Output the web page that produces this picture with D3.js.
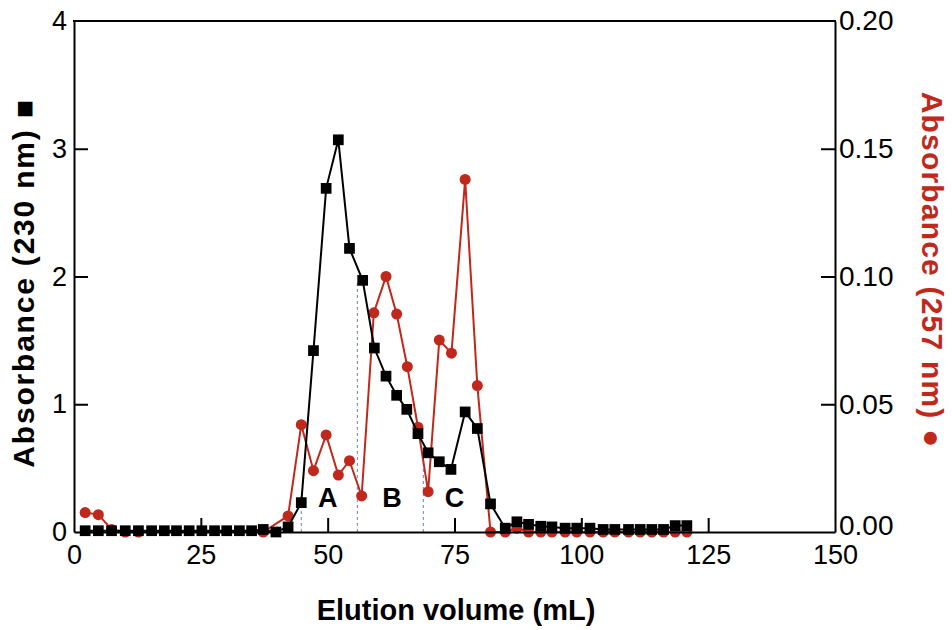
<!DOCTYPE html>
<html><head><meta charset="utf-8">
<script src="https://cdn.jsdelivr.net/npm/d3@7"></script>
<style>body{margin:0;background:#fff}</style>
</head><body>
<svg id="chart" width="952" height="630"></svg>
<script>
// Elution volume (mL) and absorbance at 230 nm (black squares, left axis)
const volume230 = [2.2,4.8,7.4,10.1,12.7,15.3,17.8,20.2,22.7,25.2,27.7,30.1,32.6,35.0,37.3,39.8,42.2,44.8,47.2,49.7,52.1,54.3,56.9,59.2,61.5,63.6,65.6,67.8,69.8,72.0,74.3,77.1,79.5,82.1,85.0,87.3,89.6,92.0,94.2,96.8,99.1,101.7,104.3,106.6,109.3,111.6,113.9,116.2,118.5,120.8];
const abs230 = [0.01,0.01,0.01,0.01,0.01,0.01,0.01,0.01,0.01,0.01,0.01,0.01,0.01,0.01,0.02,0.00,0.04,0.23,1.42,2.69,3.07,2.22,1.97,1.44,1.22,1.07,0.96,0.77,0.62,0.55,0.49,0.94,0.81,0.22,0.03,0.08,0.06,0.045,0.04,0.03,0.03,0.03,0.02,0.02,0.02,0.02,0.02,0.02,0.05,0.05];
// Absorbance at 257 nm (red circles, right axis)
const volume257 = [2.2,4.8,7.4,10.1,12.7,37.3,42.2,44.8,47.2,49.7,52.1,54.3,56.7,59.1,61.5,63.6,65.7,67.8,69.8,72.0,74.4,77.1,79.5,82.1,85.0,87.3,89.6,92.0,94.2,96.8,99.1,101.7,104.3,106.6,109.3,111.6,113.9,116.2,118.5,120.8];
const abs257 = [0.0076,0.0068,0.001,0,0,0,0.0063,0.042,0.024,0.038,0.0223,0.0279,0.0141,0.0858,0.100,0.0853,0.0647,0.041,0.0158,0.0751,0.070,0.138,0.0573,0,0,0.0015,0,0,0,0,0,0,0,0,0,0,0,0,0,0];
// ticks
const xTicks = [0,25,50,75,100,125,150];
const leftTicks = [0,1,2,3,4];
const rightTicks = [0,0.05,0.10,0.15,0.20];
// fraction annotations
const fractionLabels = ["A","B","C"];
const fractionLabelX = [50,62.7,75];
const fractionLabelY = [0.27,0.27,0.27];
const dividerX = [44.8,55.85,68.85];
const dividerTop = [0.2,1.95,0.62];

const W = 952, H = 630;
const m = {left:74, right:835, top:21, bottom:532};
const RED = "#c0281c";
const FONT = "'Liberation Sans', Arial, Helvetica, sans-serif";

const svg = d3.select("#chart");
const x = d3.scaleLinear().domain([0,150]).range([m.left, m.right]);
const yL = d3.scaleLinear().domain([0,4]).range([m.bottom, m.top]);
const yR = d3.scaleLinear().domain([0,0.2]).range([m.bottom, m.top]);

// dividers
svg.append("g").selectAll("line").data(dividerX).join("line")
  .attr("x1", d=>x(d)).attr("x2", d=>x(d))
  .attr("y1", yL(0)).attr("y2", (d,i)=>yL(dividerTop[i]))
  .attr("stroke","#6f7fc8").attr("stroke-width",1).attr("stroke-dasharray","3,3");

// fraction labels
svg.append("g").selectAll("text").data(fractionLabels).join("text")
  .attr("x",(d,i)=>x(fractionLabelX[i])).attr("y",(d,i)=>yL(fractionLabelY[i]))
  .attr("text-anchor","middle").attr("dominant-baseline","central")
  .attr("font-family",FONT).attr("font-weight","bold").attr("font-size",27)
  .attr("fill","#000").text(d=>d);

// red series
const red = volume257.map((v,i)=>[v,abs257[i]]);
svg.append("path").datum(red)
  .attr("fill","none").attr("stroke",RED).attr("stroke-width",2)
  .attr("d", d3.line().x(d=>x(d[0])).y(d=>yR(d[1])));
svg.append("g").selectAll("circle").data(red).join("circle")
  .attr("cx",d=>x(d[0])).attr("cy",d=>yR(d[1])).attr("r",5.5).attr("fill",RED);

// black series
const blk = volume230.map((v,i)=>[v,abs230[i]]);
svg.append("path").datum(blk)
  .attr("fill","none").attr("stroke","#000").attr("stroke-width",2)
  .attr("d", d3.line().x(d=>x(d[0])).y(d=>yL(d[1])));
svg.append("g").selectAll("path").data(blk).join("path")
  .attr("transform",d=>`translate(${x(d[0])},${yL(d[1])})`)
  .attr("d", d3.symbol(d3.symbolSquare, 115)).attr("fill","#000");

// axes
function styleAxis(size){
  return g=>{
    g.selectAll(".domain").attr("stroke-width",2);
    g.selectAll(".tick line").attr("stroke-width",2);
    g.selectAll("text").attr("font-family",FONT).attr("font-size",size).attr("fill","#000");
  };
}
svg.append("g").attr("transform",`translate(0,${m.bottom})`)
  .call(d3.axisBottom(x).tickValues(xTicks).tickSizeInner(-14).tickSizeOuter(0).tickPadding(13).tickFormat(d3.format("d")))
  .call(styleAxis(27))
  .call(g=>g.selectAll(".tick line").filter(d=>d===0||d===150).remove());
svg.append("g").attr("transform",`translate(${m.left},0)`)
  .call(d3.axisLeft(yL).tickValues(leftTicks).tickSizeInner(-14).tickSizeOuter(0).tickPadding(7).tickFormat(d3.format("d")))
  .call(styleAxis(27))
  .call(g=>g.selectAll(".tick line").filter(d=>d===0||d===4).remove());
svg.append("g").attr("transform",`translate(${m.right},0)`)
  .call(d3.axisRight(yR).tickValues(rightTicks).tickSizeInner(-14).tickSizeOuter(0).tickPadding(4).tickFormat(d3.format(".2f")))
  .call(styleAxis(28))
  .call(g=>g.selectAll(".tick line").filter(d=>d===0||d===0.2).remove())
  .call(g=>g.selectAll(".tick text").filter(d=>d===0).attr("dy","0.1em"));
// top frame
svg.append("line").attr("x1",m.left-1).attr("x2",m.right+1).attr("y1",m.top).attr("y2",m.top)
  .attr("stroke","#000").attr("stroke-width",2);

// axis titles
svg.append("text").attr("transform",`translate(23,283) rotate(-90)`)
  .attr("text-anchor","middle").attr("dominant-baseline","central")
  .attr("font-family",FONT).attr("font-weight","bold").attr("font-size",30)
  .attr("letter-spacing",1.8)
  .attr("fill","#000").text("Absorbance (230 nm) \u25A0");
svg.append("text").attr("transform",`translate(932,270) rotate(90)`)
  .attr("text-anchor","middle").attr("dominant-baseline","central")
  .attr("font-family",FONT).attr("font-weight","bold").attr("font-size",30)
  .attr("letter-spacing",1.2)
  .attr("fill",RED).text("Absorbance (257 nm) \u25CF");
svg.append("text").attr("x",456).attr("y",620)
  .attr("text-anchor","middle")
  .attr("font-family",FONT).attr("font-weight","bold").attr("font-size",29)
  .attr("fill","#000").text("Elution volume (mL)");
</script>
</body></html>
